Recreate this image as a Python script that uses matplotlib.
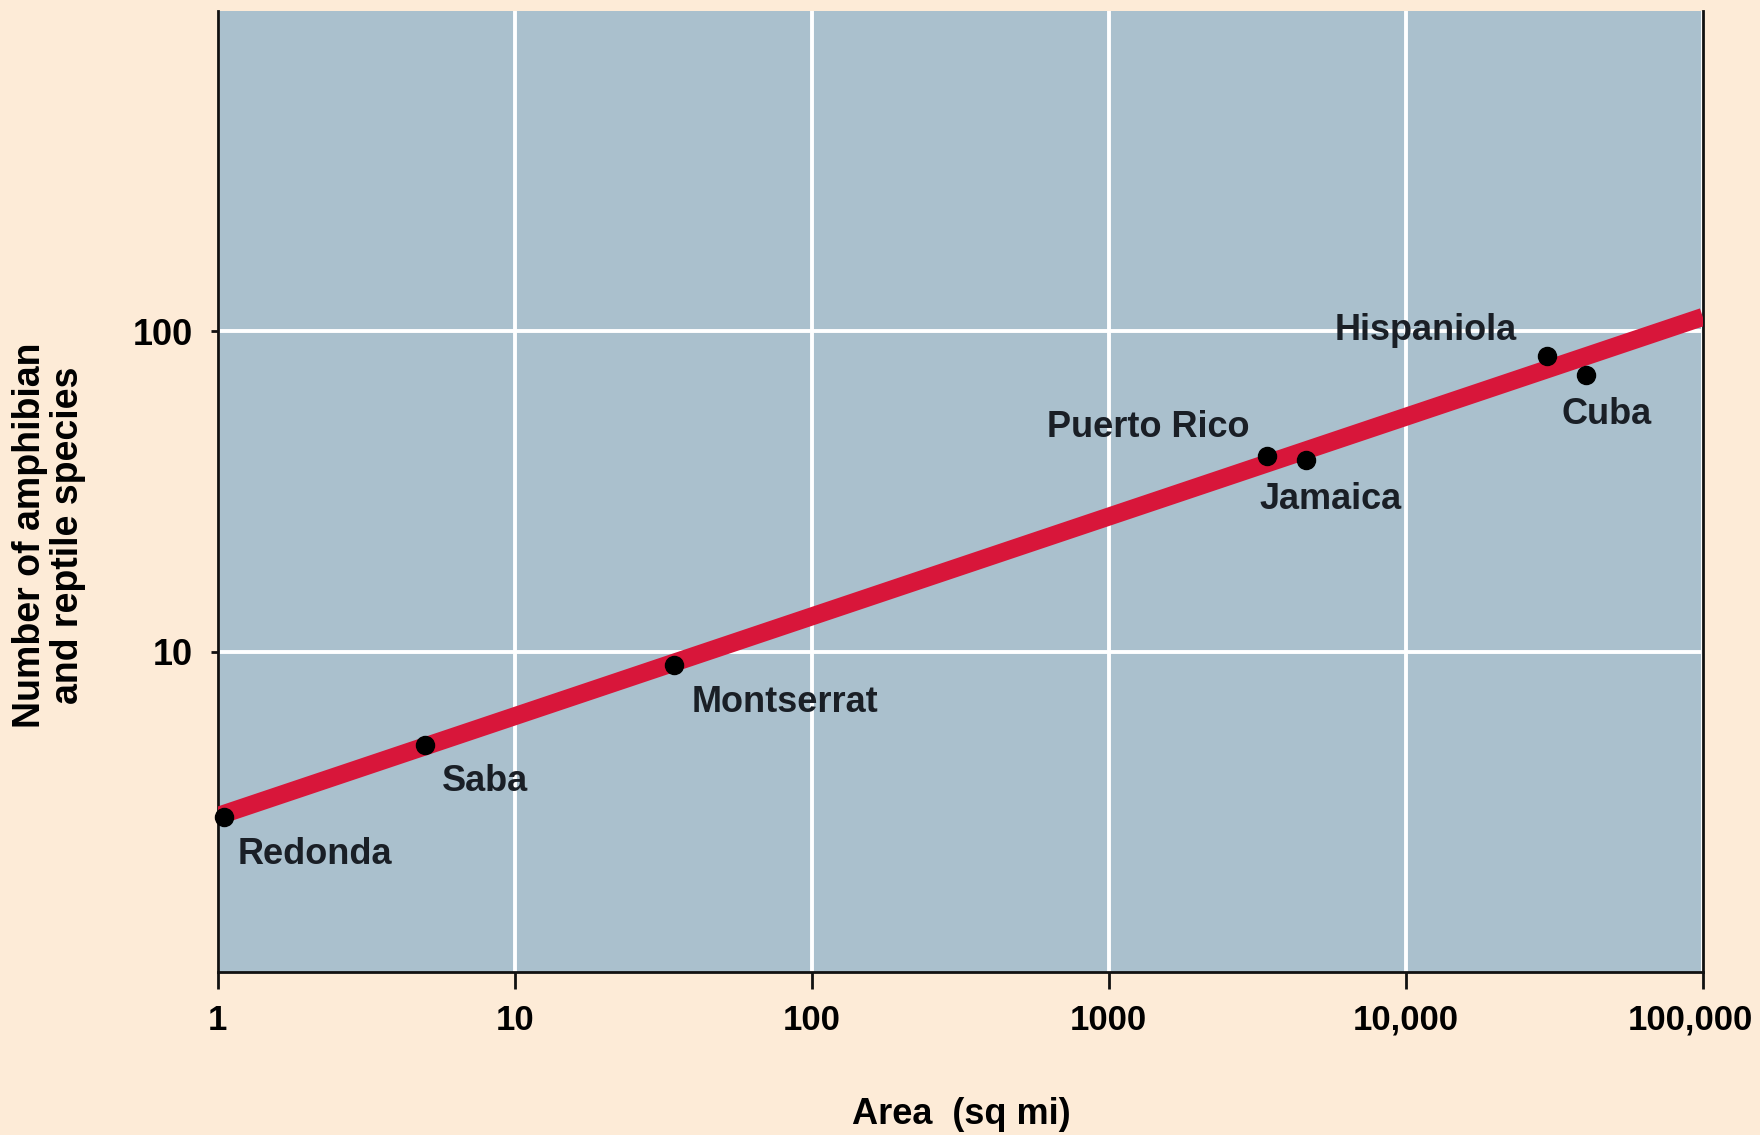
import matplotlib
matplotlib.use("Agg")
import matplotlib.pyplot as plt
from matplotlib.ticker import FixedLocator, FixedFormatter, NullLocator
from matplotlib.transforms import ScaledTranslation

# island area (sq mi) vs number of amphibian and reptile species
islands = ["Redonda", "Saba", "Montserrat", "Puerto Rico", "Jamaica", "Hispaniola", "Cuba"]
area = [1.05, 5.0, 34.5, 3400, 4600, 30000, 40500]
species = [3.05, 5.1, 9.1, 40.8, 39.8, 84, 73]

# species-area fit line, end points
fit_area = [1, 100000]
fit_species = [3.07, 111]

x_ticks = [1, 10, 100, 1000, 10000, 100000]
x_tick_labels = ["1", "10", "100", "1000", "10,000", "100,000"]
y_ticks = [10, 100]
y_tick_labels = ["10", "100"]

# label offsets in points (dx, dy, horizontal alignment)
label_offsets = {
    "Redonda": (10, -27, "left"),
    "Saba": (12, -26, "left"),
    "Montserrat": (12, -27, "left"),
    "Puerto Rico": (-12, 21, "right"),
    "Jamaica": (-33, -29, "left"),
    "Hispaniola": (-22, 18, "right"),
    "Cuba": (-18, -28, "left"),
}

BG = "#fdebd7"
PANEL = "#aac0cd"
RED = "#d8163a"
FS = 26

plt.rcParams["font.family"] = ["Liberation Sans", "DejaVu Sans"]
plt.rcParams["font.weight"] = "bold"

fig = plt.figure(figsize=(17.6, 11.35), dpi=100, facecolor=BG)
ax = fig.add_axes([0.1237, 0.1436, 0.8438, 0.8465])
ax.set_facecolor(PANEL)
ax.set_xscale("log")
ax.set_yscale("log")
ax.set_xlim(1, 100000)
ax.set_ylim(1, 1000)

ax.xaxis.set_major_locator(FixedLocator(x_ticks))
ax.xaxis.set_major_formatter(FixedFormatter(x_tick_labels))
ax.yaxis.set_major_locator(FixedLocator(y_ticks))
ax.yaxis.set_major_formatter(FixedFormatter(y_tick_labels))
ax.xaxis.set_minor_locator(NullLocator())
ax.yaxis.set_minor_locator(NullLocator())

ax.grid(True, which="major", color="white", linewidth=2.8)
ax.set_axisbelow(True)

for side in ["left", "bottom", "right"]:
    ax.spines[side].set_linewidth(2)
    ax.spines[side].set_color("#111111")
ax.spines["top"].set_visible(False)

ax.tick_params(axis="x", direction="out", length=12, width=2, pad=11,
               labelsize=25, color="#111111")
ax.tick_params(axis="y", direction="out", length=5, width=2, pad=13,
               labelsize=FS, color="#111111")

# nudge the last x label left so it stays inside the figure
last = ax.xaxis.get_major_ticks()[-1].label1
last.set_transform(last.get_transform()
                   + ScaledTranslation(-9 / 72, 0, fig.dpi_scale_trans))

ax.plot(fit_area, fit_species, color=RED, linewidth=13,
        solid_capstyle="butt", zorder=3)
ax.plot(area, species, "o", color="black", markersize=13, zorder=4, clip_on=False)

for name, x, y in zip(islands, area, species):
    dx, dy, ha = label_offsets[name]
    ax.annotate(name, (x, y), xytext=(dx, dy), textcoords="offset points",
                ha=ha, va="center", fontsize=FS, fontweight="bold",
                color="#1a1f26", zorder=5)

fig.text(0.0278, 0.528, "Number of amphibian\nand reptile species", rotation=90,
         ha="center", va="center", fontsize=27, fontweight="bold",
         linespacing=1.05)
fig.text(0.546, 0.018, "Area  (sq mi)", ha="center", va="center",
         fontsize=FS, fontweight="bold")

fig.savefig("out.png", dpi=100, facecolor=BG)
